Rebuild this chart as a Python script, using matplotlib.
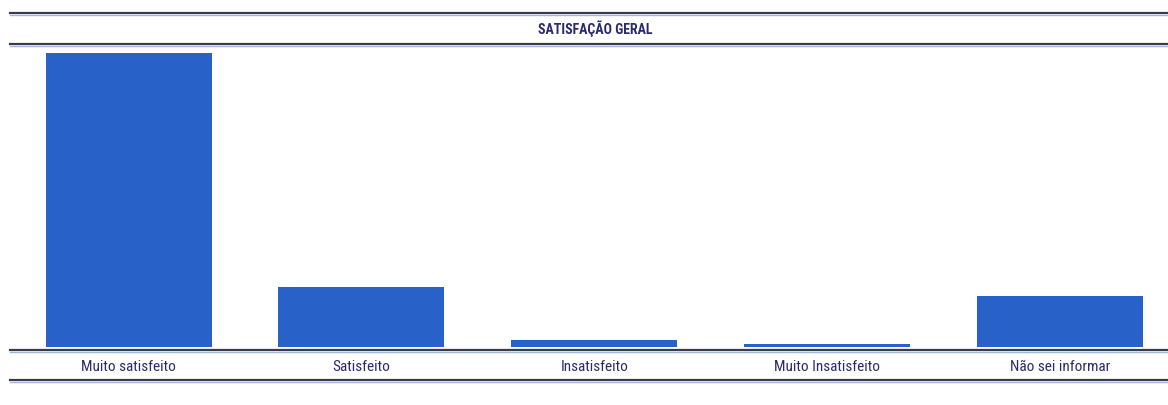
import matplotlib
matplotlib.use("Agg")
import matplotlib.pyplot as plt
from matplotlib.lines import Line2D

# Data (percent of answers)
categories = ["Muito satisfeito", "Satisfeito", "Insatisfeito",
              "Muito Insatisfeito", "Não sei informar"]
values = [70.9, 14.4, 1.7, 0.7, 12.3]

TITLE = "SATISFAÇÃO GERAL"
BAR_COLOR = "#2862c8"
TEXT_COLOR = "#2a2a6e"
LINE_COLOR = "#3a3a4a"

plt.rcParams["font.family"] = ["Liberation Sans Narrow", "DejaVu Sans Condensed",
                               "Roboto Condensed", "DejaVu Sans"]

W, H = 1168, 405
fig = plt.figure(figsize=(W / 100, H / 100), dpi=100)
fig.patch.set_facecolor("white")

# plot area: bar baseline at y=347px, top at y=47px
ax = fig.add_axes([10 / W, 1 - 347 / H, 1 - 10 / W, (347 - 47) / H])
ax.bar(range(len(categories)), values, width=0.713, color=BAR_COLOR)
ax.set_xlim(-0.509, 4.463)
ax.set_ylim(0, 72.3)
ax.axis("off")

# category labels under the axis line
for i, c in enumerate(categories):
    x = (10 + (i + 0.509) / (4.463 + 0.509) * (W - 10)) / W
    fig.text(x, 1 - 367 / H, c, ha="center", va="center",
             fontsize=11, fontstretch="condensed", color=TEXT_COLOR)

fig.text(595 / W, 1 - 29 / H, TITLE, ha="center", va="center",
         fontsize=10, fontweight="bold", fontstretch="condensed", color=TEXT_COLOR)

# horizontal rules of the spreadsheet frame
def rule(y, lw=1.6):
    fig.add_artist(Line2D([10 / W, 1], [1 - y / H, 1 - y / H],
                          color=LINE_COLOR, lw=lw, transform=fig.transFigure))
    fig.add_artist(Line2D([10 / W, 1], [1 - (y + 2) / H, 1 - (y + 2) / H],
                          color="#9fb8e0", lw=1.0, transform=fig.transFigure))

rule(13)
rule(44)
rule(350)
rule(380)

fig.savefig("out.png", dpi=100)
